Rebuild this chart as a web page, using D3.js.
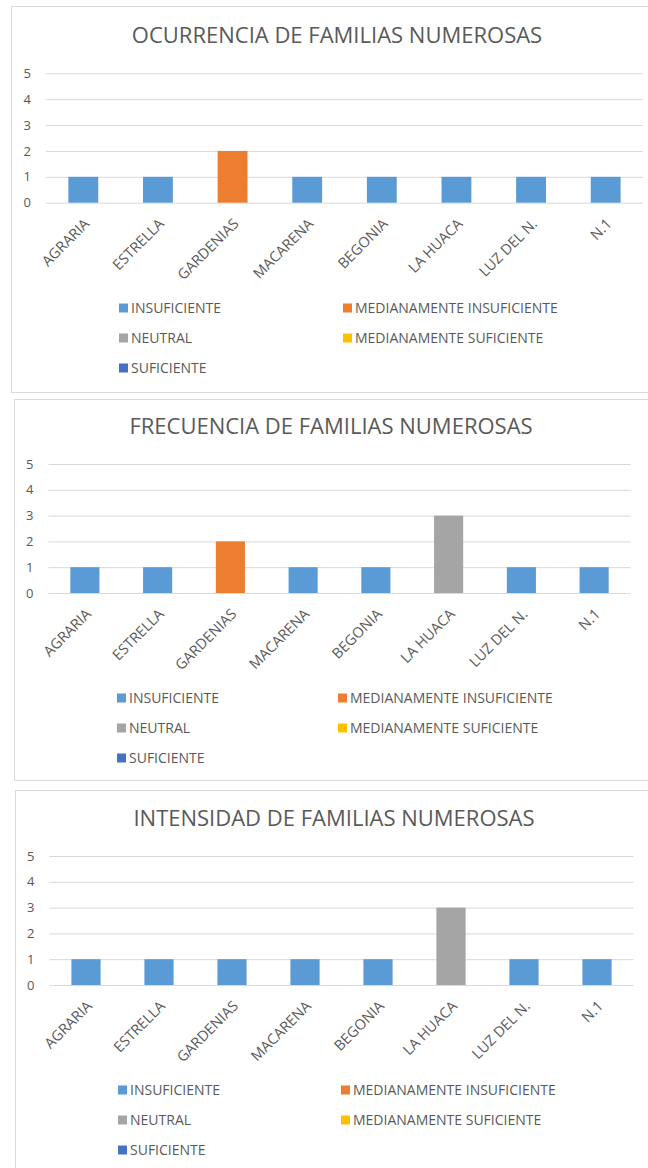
<!DOCTYPE html>
<html>
<head>
<meta charset="utf-8">
<script src="https://cdn.jsdelivr.net/npm/d3@7"></script>
<style>
  body { margin: 0; background: #fff; }
  svg { display: block; }
  text { font-family: "Open Sans", sans-serif; fill: #595959; }
</style>
</head>
<body>
<div id="wrapper"></div>
<script>
// 1. Data
const categories = ["AGRARIA", "ESTRELLA", "GARDENIAS", "MACARENA", "BEGONIA", "LA HUACA", "LUZ DEL N.", "N.1"]
const levels = ["INSUFICIENTE", "MEDIANAMENTE INSUFICIENTE", "NEUTRAL", "MEDIANAMENTE SUFICIENTE", "SUFICIENTE"]
const levelColors = ["#5b9bd5", "#ed7d31", "#a5a5a5", "#ffc000", "#4472c4"]
const yTicks = [0, 1, 2, 3, 4, 5]
const titles = ["OCURRENCIA DE FAMILIAS NUMEROSAS", "FRECUENCIA DE FAMILIAS NUMEROSAS", "INTENSIDAD DE FAMILIAS NUMEROSAS"]

const ocurrenciaValues = [1, 1, 2, 1, 1, 1, 1, 1]
const ocurrenciaLevels = ["INSUFICIENTE", "INSUFICIENTE", "MEDIANAMENTE INSUFICIENTE", "INSUFICIENTE", "INSUFICIENTE", "INSUFICIENTE", "INSUFICIENTE", "INSUFICIENTE"]

const frecuenciaValues = [1, 1, 2, 1, 1, 3, 1, 1]
const frecuenciaLevels = ["INSUFICIENTE", "INSUFICIENTE", "MEDIANAMENTE INSUFICIENTE", "INSUFICIENTE", "INSUFICIENTE", "NEUTRAL", "INSUFICIENTE", "INSUFICIENTE"]

const intensidadValues = [1, 1, 1, 1, 1, 3, 1, 1]
const intensidadLevels = ["INSUFICIENTE", "INSUFICIENTE", "INSUFICIENTE", "INSUFICIENTE", "INSUFICIENTE", "NEUTRAL", "INSUFICIENTE", "INSUFICIENTE"]

// 2. Layout of the three stacked panels
const panels = [
  { title: titles[0], values: ocurrenciaValues, levels: ocurrenciaLevels,
    box: { x: 11, y: 6, h: 386 },
    plot: { left: 46, right: 643, top: 73.3, bottom: 202.7 },
    titleX: 337, titleY: 43, legendY: 308, legendX: [119, 343] },
  { title: titles[1], values: frecuenciaValues, levels: frecuenciaLevels,
    box: { x: 14, y: 399, h: 381 },
    plot: { left: 48.5, right: 630.5, top: 464, bottom: 593 },
    titleX: 331, titleY: 434, legendY: 698, legendX: [117, 338] },
  { title: titles[2], values: intensidadValues, levels: intensidadLevels,
    box: { x: 15, y: 790, h: 400 },
    plot: { left: 49.5, right: 633.5, top: 856, bottom: 985 },
    titleX: 334, titleY: 826, legendY: 1090, legendX: [118, 341] }
]

const wrapper = d3.select("#wrapper")
  .append("svg")
    .attr("width", 648)
    .attr("height", 1168)

function drawPanel(p) {
  const g = wrapper.append("g")

  // frame
  g.append("rect")
      .attr("x", p.box.x + 0.5)
      .attr("y", p.box.y + 0.5)
      .attr("width", 700)
      .attr("height", p.box.h)
      .attr("fill", "#fff")
      .attr("stroke", "#d9d9d9")

  g.append("text")
      .attr("x", p.titleX)
      .attr("y", p.titleY)
      .attr("text-anchor", "middle")
      .style("font-size", "22px")
      .text(p.title)

  // scales
  const xScale = d3.scaleBand()
    .domain(categories)
    .range([p.plot.left, p.plot.right])
    .paddingInner(0.6)
    .paddingOuter(0.3)

  const yScale = d3.scaleLinear()
    .domain([0, 5])
    .range([p.plot.bottom, p.plot.top])

  // gridlines + y labels
  const yAxisGenerator = d3.axisLeft(yScale)
    .tickValues(yTicks)
    .tickFormat(d3.format("d"))
    .tickSize(-(p.plot.right - p.plot.left))
    .tickPadding(15)

  const yAxis = g.append("g")
      .attr("transform", `translate(${p.plot.left},0)`)
    .call(yAxisGenerator)
  yAxis.select(".domain").remove()
  yAxis.selectAll("line").attr("stroke", "#d9d9d9")
  yAxis.selectAll("text")
      .attr("fill", "#595959")
      .style("font-size", "13px")
      .style("font-family", "\"Open Sans\", sans-serif")

  // bars
  g.append("g").selectAll("rect")
    .data(categories.map((c, i) => ({ category: c, value: p.values[i], level: p.levels[i] })))
    .join("rect")
      .attr("x", d => xScale(d.category))
      .attr("y", d => yScale(d.value))
      .attr("width", xScale.bandwidth())
      .attr("height", d => yScale(0) - yScale(d.value))
      .attr("fill", d => levelColors[levels.indexOf(d.level)])

  // x labels
  const xAxisGenerator = d3.axisBottom(xScale).tickSize(0)
  const xAxis = g.append("g")
      .attr("transform", `translate(0,${p.plot.bottom})`)
    .call(xAxisGenerator)
  xAxis.select(".domain").remove()
  xAxis.selectAll("text")
      .attr("x", 0)
      .attr("y", 0)
      .attr("dy", null)
      .attr("text-anchor", "end")
      .attr("transform", "translate(7,22) rotate(-45)")
      .attr("fill", "#595959")
      .style("font-size", "14.5px")
      .style("font-family", "\"Open Sans\", sans-serif")

  // legend
  const legend = g.append("g").selectAll("g")
    .data(levels)
    .join("g")
      .attr("transform", (d, i) => `translate(${p.legendX[i % 2]},${p.legendY + Math.floor(i / 2) * 30})`)

  legend.append("rect")
      .attr("x", 0)
      .attr("y", -4.5)
      .attr("width", 9)
      .attr("height", 9)
      .attr("fill", (d, i) => levelColors[i])

  legend.append("text")
      .attr("x", 12)
      .attr("y", 5)
      .style("font-size", "14px")
      .text(d => d)
}

panels.forEach(drawPanel)
</script>
</body>
</html>
